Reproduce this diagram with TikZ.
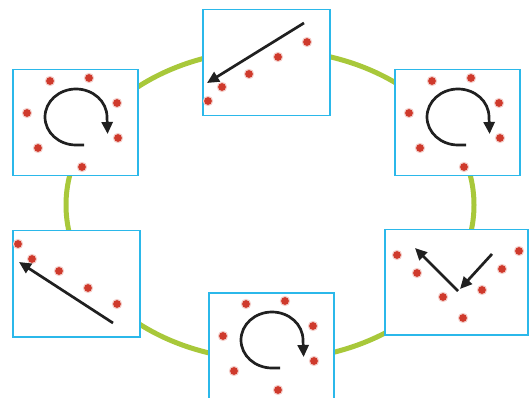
\documentclass[tikz,border=0pt]{standalone}
\usetikzlibrary{arrows.meta}
\definecolor{ringgreen}{HTML}{A8C83A}
\definecolor{boxblue}{HTML}{2BB8EA}
\definecolor{dotred}{HTML}{CF3A2C}
\definecolor{arrowdark}{HTML}{202020}
\tikzset{
  panel/.style={draw=boxblue, line width=1.5pt, fill=white, inner sep=0pt, anchor=north west},
  reddot/.style={fill=dotred},
  dotglow/.style={fill=dotred!25},
  moveline/.style={draw=arrowdark, line width=2.7pt, -{Triangle[length=12pt,width=11pt]}},
}
\newcommand{\rdot}[2]{\fill[dotglow] (#1,#2) circle (5.2);\fill[reddot] (#1,#2) circle (3.9);}
\newcommand{\rotpanel}[3]{%
  \node[panel, minimum width=125pt, minimum height=106pt] (#3) at (#1,#2) {};
  \begin{scope}[shift={(#1,#2)}]
    \rdot{38}{12}\rdot{77}{9}\rdot{105}{34}\rdot{15}{44}\rdot{106}{69}\rdot{26}{79}\rdot{70}{98}
    \draw[moveline] (72,76) -- (64,76) arc[start angle=90, end angle=360, x radius=31, y radius=28] -- ++(0.6,17);
  \end{scope}}
\begin{document}
\begin{tikzpicture}[x=1pt,y=-1pt]
\useasboundingbox (0,0) rectangle (530,398);
% ring
\draw[ringgreen, line width=5pt] (270,205) ellipse [x radius=204, y radius=155];
% rotation panels
\rotpanel{12}{69}{p1}
\rotpanel{394}{69}{p3}
\rotpanel{208}{292}{p5}
% panel 2 (top) line
\node[panel, minimum width=127pt, minimum height=106pt] (p2) at (202,9) {};
\rdot{208}{101}\rdot{222}{87}\rdot{249}{74}\rdot{278}{57}\rdot{307}{42}
\coordinate (p2s) at (304,23);
\coordinate (p2e) at (207,83);
\draw[moveline] (p2s) -- (p2e);
% panel 4 (left) line
\node[panel, minimum width=127pt, minimum height=106pt] (p4) at (12,230) {};
\rdot{18}{244}\rdot{32}{259}\rdot{59}{271}\rdot{88}{288}\rdot{117}{304}
\coordinate (p4s) at (113,323);
\coordinate (p4e) at (19,262);
\draw[moveline] (p4s) -- (p4e);
% panel 6 (right) V
\node[panel, minimum width=143pt, minimum height=105pt] (p6) at (384,229) {};
\rdot{397}{255}\rdot{417}{273}\rdot{443}{297}\rdot{463}{318}\rdot{482}{290}\rdot{502}{269}\rdot{519}{251}
\coordinate (p6v) at (458,291);
\coordinate (p6a) at (415,248);
\coordinate (p6b) at (492,254);
\coordinate (p6c) at (460,289);
\draw[moveline] (p6v) -- (p6a);
\draw[moveline] (p6b) -- (p6c);
\end{tikzpicture}
\end{document}
